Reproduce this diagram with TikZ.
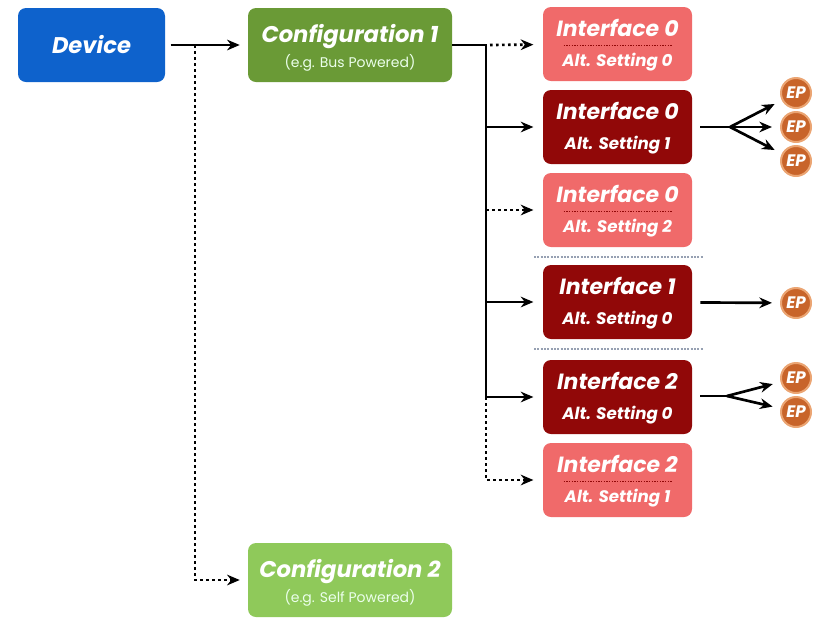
\documentclass[tikz,border=0pt]{standalone}
\usepackage{fontspec}
\setmainfont{Poppins}
\usetikzlibrary{arrows.meta,calc}
\definecolor{devblue}{RGB}{14,98,204}
\definecolor{cfgA}{RGB}{106,154,54}
\definecolor{cfgB}{RGB}{143,201,90}
\definecolor{ifLight}{RGB}{240,106,106}
\definecolor{ifDark}{RGB}{145,8,8}
\definecolor{epFill}{RGB}{200,100,42}
\definecolor{epRim}{RGB}{235,165,115}
\definecolor{sepGrey}{RGB}{150,160,178}
\begin{document}
\begin{tikzpicture}[x=0.75pt,y=-0.75pt,
  box/.style={rounded corners=6pt, inner sep=0pt, draw=none},
  devbox/.style={box, fill=devblue, minimum width=110.25pt, minimum height=55.5pt},
  cfgbox/.style={box, minimum width=153pt, minimum height=55.5pt},
  ifbox/.style={box, minimum width=111.75pt, minimum height=55.5pt},
  lightbox/.style={ifbox, fill=ifLight},
  darkbox/.style={ifbox, fill=ifDark},
  ttl/.style={text=white, inner sep=0pt, font=\fontsize{16.5}{16.5}\selectfont\bfseries\itshape},
  bigttl/.style={ttl, font=\fontsize{17}{17}\selectfont\bfseries\itshape},
  subt/.style={text=white, inner sep=0pt, font=\fontsize{12.5}{12.5}\selectfont\bfseries\itshape},
  cfgsub/.style={text=white!92!green, inner sep=0pt, font=\fontsize{10.5}{10.5}\selectfont},
  ep/.style={circle, fill=epFill, draw=epRim, line width=1.5pt, minimum size=22.5pt, inner sep=0pt,
    text=white, font=\fontsize{12.5}{12.5}\selectfont\bfseries\itshape},
  line/.style={line width=2pt, black},
  arr/.style={line, -{Stealth[length=9.5pt,width=8pt]}},
  dotl/.style={line width=2pt, dash pattern=on 2pt off 2.5pt},
  darr/.style={dotl, -{Stealth[length=9.5pt,width=8pt]}},
  indash/.style={ifDark, line width=0.9pt, dash pattern=on 1pt off 1pt},
  sep/.style={sepGrey, line width=1.4pt, dash pattern=on 1.5pt off 1pt}]
\useasboundingbox (0,0) rectangle (825,619);

% Device and configurations
\node[devbox] (dev) at (91.5,45) {};
\node[bigttl, anchor=base] (devt) at ($(dev.center)+(0,8)$) {Device};
\node[cfgbox, fill=cfgA] (c1) at (350,45) {};
\node[bigttl, anchor=base] (c1t) at ($(c1.center)+(0,-3)$) {Configuration 1};
\node[cfgsub, anchor=base] (c1s) at ($(c1.center)+(0,22)$) {(e.g. Bus Powered)};
\node[cfgbox, fill=cfgB] (c2) at (350,580) {};
\node[bigttl, anchor=base] (c2t) at ($(c2.center)+(0,-3)$) {Configuration 2};
\node[cfgsub, anchor=base] (c2s) at ($(c2.center)+(0,22)$) {(e.g. Self Powered)};

% Interfaces
\newcommand\IFace[5]{%
  \node[#3] (#1) at (617.5,#2) {};
  \node[ttl, anchor=base] (#1t) at ($(#1.center)+(0,-8)$) {#4};
  \node[subt, anchor=base] (#1s) at ($(#1.center)+(0,22)$) {#5};}
\IFace{i00}{44}{lightbox}{Interface 0}{Alt. Setting 0}
\IFace{i01}{127}{darkbox}{Interface 0}{Alt. Setting 1}
\IFace{i02}{210}{lightbox}{Interface 0}{Alt. Setting 2}
\IFace{i10}{302}{darkbox}{Interface 1}{Alt. Setting 0}
\IFace{i20}{397}{darkbox}{Interface 2}{Alt. Setting 0}
\IFace{i21}{480}{lightbox}{Interface 2}{Alt. Setting 1}
\foreach \n in {i00,i02,i21}
  \draw[indash] ($(\n.center)+(-54,1.5)$) -- ($(\n.center)+(54,1.5)$);

% separators
\draw[sep] (534,257) -- (703,257);
\draw[sep] (534,349) -- (703,349);

% Endpoints
\node[ep] (e1) at (796,93) {EP};
\node[ep] (e2) at (796,127) {EP};
\node[ep] (e3) at (796,161) {EP};
\node[ep] (e4) at (796,303) {EP};
\node[ep] (e5) at (796,378) {EP};
\node[ep] (e6) at (796,412) {EP};

% Device -> configurations
\coordinate (dj) at (195,45);
\draw[arr, shorten <=4pt, shorten >=6pt] (dev) -- (c1);
\draw[darr, shorten >=6pt] (dj) |- (c2);

% Configuration 1 -> interfaces
\coordinate (tk) at (486,45);
\coordinate (tb) at (486,397);
\draw[line] (c1) -- (tk) -- (tb);
\draw[darr, shorten <=3pt, shorten >=7pt] (tk) -- (i00);
\draw[arr, shorten >=7pt] (tk |- i01) -- (i01);
\draw[darr, shorten >=7pt] (tk |- i02) -- (i02);
\draw[arr, shorten >=7pt] (tk |- i10) -- (i10);
\draw[arr, shorten >=7pt] (tb) -- (i20);
\draw[darr, shorten >=7pt] (tb) |- (i21);

% Interfaces -> endpoints
\coordinate (f1) at (730,127);
\draw[line, shorten <=6pt] (i01) -- (f1);
\foreach \e in {e1,e2,e3} \draw[arr, shorten >=6pt] (f1) -- (\e);
\draw[arr, shorten <=6pt, shorten >=6pt] (i10) -- (e4);
\coordinate (f2) at (727,396);
\draw[line, shorten <=6pt] (i20.east |- f2) -- (f2);
\foreach \e in {e5,e6} \draw[arr, shorten >=6pt] (f2) -- (\e);
\end{tikzpicture}
\end{document}
